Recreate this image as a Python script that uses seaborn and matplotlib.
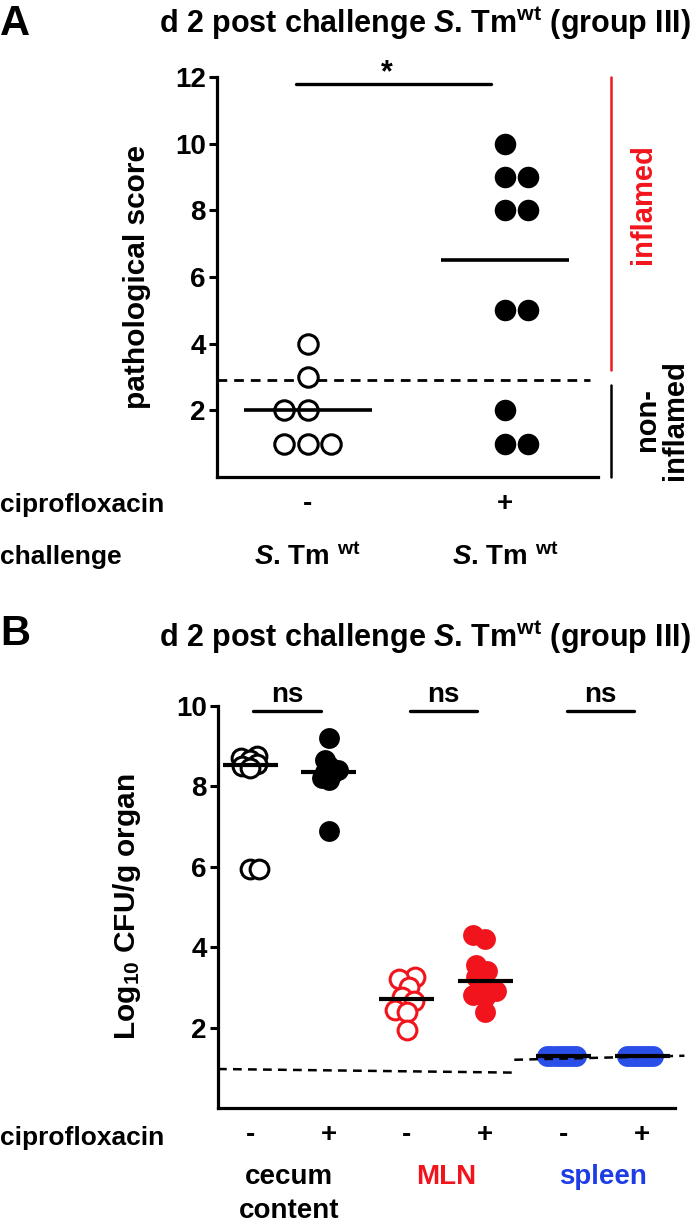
import numpy as np
import pandas as pd
import matplotlib
matplotlib.use("Agg")
import matplotlib.pyplot as plt
import seaborn as sns
from matplotlib import font_manager as fm
from matplotlib.transforms import blended_transform_factory as blend

# ---------------- data ----------------
# Panel A: pathological score
a_groups = ["-", "+"]
score_neg = [4, 3, 2, 2, 1, 1, 1]
score_pos = [10, 9, 9, 8, 8, 5, 5, 2, 1, 1]
a_threshold = 2.9
a_yticks = [2, 4, 6, 8, 10, 12]

# Panel B: Log10 CFU/g organ
b_groups = ["cecum -", "cecum +", "MLN -", "MLN +", "spleen -", "spleen +"]
b_signs = ["-", "+", "-", "+", "-", "+"]
organs = ["cecum\ncontent", "MLN", "spleen"]
cecum_neg = [8.75, 8.7, 8.65, 8.55, 8.5, 8.45, 5.95, 5.95]
cecum_pos = [9.2, 8.65, 8.5, 8.4, 8.35, 8.3, 8.2, 8.15, 6.9]
mln_neg = [3.25, 3.2, 3.0, 2.75, 2.65, 2.45, 2.4, 1.95]
mln_pos = [4.3, 4.2, 3.55, 3.4, 3.25, 3.05, 2.9, 2.8, 2.75, 2.4]
spleen_neg = [1.3, 1.3, 1.3, 1.3, 1.3, 1.3, 1.3, 1.3]
spleen_pos = [1.3, 1.3, 1.3, 1.3, 1.3, 1.3, 1.3, 1.3]
lod_cecum_mln = [0.97, 0.88]   # detection limit (start, end)
lod_spleen = [1.2, 1.3]
b_yticks = [2, 4, 6, 8, 10]

# ---------------- style ----------------
sns.set_style("ticks")
names = {f.name for f in fm.fontManager.ttflist}
NARROW = "Liberation Sans Narrow" if "Liberation Sans Narrow" in names else "Liberation Sans"
WIDE = "Liberation Sans"
plt.rcParams["font.family"] = [NARROW, "DejaVu Sans"]
plt.rcParams["font.weight"] = "bold"
plt.rcParams["text.color"] = "black"
plt.rcParams["axes.edgecolor"] = "black"
plt.rcParams["axes.labelcolor"] = "black"
plt.rcParams["xtick.color"] = "black"
plt.rcParams["ytick.color"] = "black"
plt.rcParams["mathtext.fontset"] = "custom"
plt.rcParams["mathtext.rm"] = f"{NARROW}:bold"
plt.rcParams["mathtext.bf"] = f"{NARROW}:bold"
plt.rcParams["mathtext.it"] = f"{NARROW}:italic:bold"

RED = "#f2141c"
BLUE = "#2a4fe8"
BLUE_TXT = "#1e3ce6"
W, H = 700, 1229

fig = plt.figure(figsize=(7, 12.29), dpi=100)


def fx(px):
    return px / W


def fy(py):
    return 1 - py / H


def style_axes(ax):
    sns.despine(ax=ax)
    for s in ["left", "bottom"]:
        ax.spines[s].set_linewidth(2.3)
        ax.spines[s].set_color("black")
    ax.tick_params(axis="y", direction="out", length=6, width=2.2, labelsize=20, pad=2,
                   colors="black")
    ax.tick_params(axis="x", length=0, labelsize=20, pad=10, colors="black")
    for lab in ax.get_yticklabels() + ax.get_xticklabels():
        lab.set_fontweight("bold")
    ax.set_xlabel("")
    ax.set_ylabel("")


# ================= Panel A =================
axA = fig.add_axes([fx(217), fy(477), fx(381), 400 / H])
dfA = pd.DataFrame({
    "cipro": ["-"] * len(score_neg) + ["+"] * len(score_pos),
    "score": score_neg + score_pos,
})
sns.swarmplot(data=dfA[dfA.cipro == "-"], x="cipro", y="score", order=a_groups, ax=axA,
              size=14, color="black", facecolor="white", edgecolor="black", linewidth=2.2)
sns.swarmplot(data=dfA[dfA.cipro == "+"], x="cipro", y="score", order=a_groups, ax=axA,
              size=15.5, color="black", edgecolor="black", linewidth=0)
sns.boxplot(data=dfA, x="cipro", y="score", order=a_groups, ax=axA, width=0.65,
            showbox=False, showcaps=False, showfliers=False,
            whiskerprops={"visible": False},
            medianprops={"color": "black", "linewidth": 2.6, "zorder": 6})
axA.set_xlim(-0.46, 1.47)
axA.set_ylim(0, 12)
axA.set_yticks(a_yticks)
axA.set_xticks(range(len(a_groups)))
axA.set_xticklabels(a_groups)
style_axes(axA)
axA.axhline(a_threshold, xmin=0, xmax=0.98, color="black", lw=2.0, ls=(0, (3.5, 2.5)), zorder=2)
# significance
axA.plot([-0.06, 0.93], [11.8, 11.8], color="black", lw=2.4, clip_on=False)
axA.text(0.40, 11.65, "*", ha="center", va="bottom", fontsize=22, fontweight="bold")
# inflamed / non-inflamed brackets
tA = blend(axA.transAxes, axA.transData)
axA.plot([1.034, 1.034], [12, 3.2], color=RED, lw=1.8, transform=tA, clip_on=False)
axA.plot([1.034, 1.034], [2.75, 0], color="black", lw=1.8, transform=tA, clip_on=False)
axA.text(1.117, 8.2, "inflamed", color=RED, rotation=90, ha="center", va="center",
         fontsize=21, fontfamily=WIDE, fontweight="bold", transform=tA)
axA.text(1.165, 1.71, "non-\ninflamed", color="black", rotation=90, ha="center", va="center",
         multialignment="center", fontsize=21, fontfamily=WIDE, fontweight="bold",
         linespacing=1.0, transform=tA)
axA.text(-0.21, 0.5, "pathological score", rotation=90, ha="center", va="center",
         fontsize=21.5, fontfamily=WIDE, fontweight="bold", transform=axA.transAxes)
tAx = blend(axA.transData, axA.transAxes)
for i in range(len(a_groups)):
    axA.text(i, -0.2, r"$\mathit{S}$. Tm $^{\mathrm{wt}}$", ha="center", va="center",
             fontsize=20, fontweight="bold", transform=tAx)

fig.text(fx(0), fy(505), "ciprofloxacin", ha="left", va="center", fontsize=19, fontweight="bold")
fig.text(fx(0), fy(557), "challenge", ha="left", va="center", fontsize=19, fontweight="bold")
fig.text(fx(0), fy(4), "A", ha="left", va="top", fontsize=30, fontfamily=WIDE, fontweight="bold")
fig.text(fx(425), fy(4), r"d 2 post challenge $\mathit{S}$. Tm$^{\mathrm{wt}}$ (group III)",
         ha="center", va="top", fontsize=22, fontweight="bold")

# ================= Panel B =================
axB = fig.add_axes([fx(218), fy(1108), fx(457), 402 / H])
b_values = [cecum_neg, cecum_pos, mln_neg, mln_pos, spleen_neg, spleen_pos]
dfB = pd.DataFrame({
    "group": np.repeat(b_groups, [len(v) for v in b_values]),
    "value": np.concatenate(b_values),
})
b_colors = ["black", "black", RED, RED, BLUE, BLUE]
b_open = [True, False, True, False, False, False]
b_layout = [5.8, 5.0, 8.6, 8.6, 2.8, 2.5]   # packing size used for the swarm layout
swarm_sets = []
for g, col, op, lay in zip(b_groups, b_colors, b_open, b_layout):
    n0 = len(axB.collections)
    sns.swarmplot(data=dfB[dfB.group == g], x="group", y="value", order=b_groups, ax=axB,
                  size=lay, color=col, linewidth=0, edgecolor=col)
    swarm_sets.append((axB.collections[n0:], col, op))
sns.boxplot(data=dfB, x="group", y="value", order=b_groups, ax=axB, width=0.7,
            showbox=False, showcaps=False, showfliers=False,
            whiskerprops={"visible": False},
            medianprops={"color": "black", "linewidth": 3.0, "zorder": 6})
axB.set_xlim(-0.41, 5.42)
axB.set_ylim(0, 10)
axB.set_yticks(b_yticks)
axB.set_xticks(range(len(b_groups)))
axB.set_xticklabels(b_signs)
style_axes(axB)

# detection limits
axB.plot([-0.41, 3.37], lod_cecum_mln, color="black", lw=1.8, ls=(0, (3.5, 2.5)), zorder=2)
axB.plot([3.37, 5.54], lod_spleen, color="black", lw=1.8, ls=(0, (3.5, 2.5)), zorder=7,
         clip_on=False)
# ns bars
for i in range(3):
    c = 2 * i + 0.47
    axB.plot([c - 0.43, c + 0.43], [9.87, 9.87], color="black", lw=2.4, clip_on=False)
    axB.text(c, 9.95, "ns", ha="center", va="bottom", fontsize=20, fontweight="bold")

tBx = blend(axB.transData, axB.transAxes)
for i, (org, col) in enumerate(zip(organs, ["black", RED, BLUE_TXT])):
    axB.text(2 * i + 0.5, -0.14, org, ha="center", va="top", color=col,
             fontsize=20, fontweight="bold", linespacing=1.4, transform=tBx)
axB.text(-0.2, 0.5, r"Log$_{10}$ CFU/g organ", rotation=90, ha="center", va="center",
         fontsize=21.5, fontfamily=WIDE, fontweight="bold", transform=axB.transAxes)
fig.text(fx(0), fy(1138), "ciprofloxacin", ha="left", va="center", fontsize=19, fontweight="bold")
fig.text(fx(0), fy(614), "B", ha="left", va="top", fontsize=30, fontfamily=WIDE, fontweight="bold")
fig.text(fx(425), fy(618), r"d 2 post challenge $\mathit{S}$. Tm$^{\mathrm{wt}}$ (group III)",
         ha="center", va="top", fontsize=22, fontweight="bold")

# compute the packed swarm layout, then draw the markers at full size (overlapping)
fig.canvas.draw()
for colls, col, op in swarm_sets:
    for cl in colls:
        cl.__dict__.pop("draw", None)
        if op:
            cl.set_sizes([13.5 ** 2])
            cl.set_facecolor("white")
            cl.set_edgecolor(col)
            cl.set_linewidth(2.2)
        else:
            cl.set_sizes([15 ** 2])
            cl.set_facecolor(col)
            cl.set_edgecolor(col)
            cl.set_linewidth(0)

fig.savefig("out.png", dpi=100)
